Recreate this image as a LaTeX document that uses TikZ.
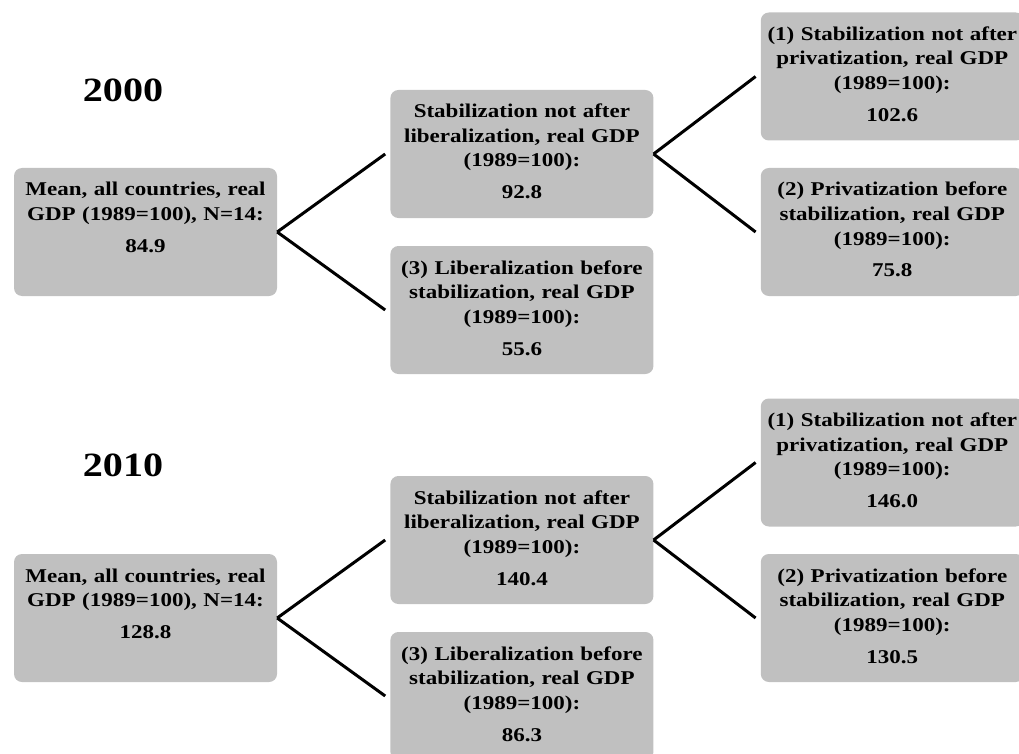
\documentclass[tikz,border=0pt]{standalone}
\usepackage{fontspec}
\setmainfont{Liberation Serif}[FakeStretch=1.18]
\usetikzlibrary{positioning}
\definecolor{boxgray}{RGB}{192,192,192}
\tikzset{
  gdpbox/.style={
    rectangle, fill=boxgray, rounded corners=8pt,
    minimum width=263pt, text width=255pt,
    inner xsep=4pt, inner ysep=0pt,
    text height=28pt, text depth=100pt,
    align=center, font=\bfseries\fontsize{19.5}{24.5}\selectfont
  },
  yearlabel/.style={font=\bfseries\fontsize{34}{40}\selectfont},
  branch/.style={line width=3pt}
}
\begin{document}
\begin{tikzpicture}[x=1pt, y=-1pt]
\useasboundingbox (0,0) rectangle (1019,754);

% 2000
\node[yearlabel] (yr00) at (123,90) {2000};
\node[gdpbox] (mean00) at (145.5,232)
  {Mean, all countries, real\\GDP (1989=100), N=14:\\[7.5pt]84.9};
\node[gdpbox, right=113pt of mean00, yshift=78pt] (notlib00)
  {Stabilization not after\\liberalization, real GDP\\(1989=100):\\[7.5pt]92.8};
\node[gdpbox, right=113pt of mean00, yshift=-78pt] (libfirst00)
  {(3) Liberalization before\\stabilization, real GDP\\(1989=100):\\[7.5pt]55.6};
\node[gdpbox, right=107pt of notlib00, yshift=77.5pt] (notpriv00)
  {(1) Stabilization not after\\privatization, real GDP\\(1989=100):\\[7.5pt]102.6};
\node[gdpbox, right=107pt of notlib00, yshift=-78pt] (privfirst00)
  {(2) Privatization before\\stabilization, real GDP\\(1989=100):\\[7.5pt]75.8};

\draw[branch] (mean00.east) -- ([xshift=-5pt]notlib00.west);
\draw[branch] (mean00.east) -- ([xshift=-5pt]libfirst00.west);
\draw[branch] (notlib00.east) -- ([xshift=-5pt]notpriv00.west);
\draw[branch] (notlib00.east) -- ([xshift=-5pt]privfirst00.west);

% 2010
\node[yearlabel] (yr10) at (123,465) {2010};
\node[gdpbox] (mean10) at (145.5,618)
  {Mean, all countries, real\\GDP (1989=100), N=14:\\[7.5pt]128.8};
\node[gdpbox, right=113pt of mean10, yshift=78pt] (notlib10)
  {Stabilization not after\\liberalization, real GDP\\(1989=100):\\[7.5pt]140.4};
\node[gdpbox, right=113pt of mean10, yshift=-78pt] (libfirst10)
  {(3) Liberalization before\\stabilization, real GDP\\(1989=100):\\[7.5pt]86.3};
\node[gdpbox, right=107pt of notlib10, yshift=77.5pt] (notpriv10)
  {(1) Stabilization not after\\privatization, real GDP\\(1989=100):\\[7.5pt]146.0};
\node[gdpbox, right=107pt of notlib10, yshift=-78pt] (privfirst10)
  {(2) Privatization before\\stabilization, real GDP\\(1989=100):\\[7.5pt]130.5};

\draw[branch] (mean10.east) -- ([xshift=-5pt]notlib10.west);
\draw[branch] (mean10.east) -- ([xshift=-5pt]libfirst10.west);
\draw[branch] (notlib10.east) -- ([xshift=-5pt]notpriv10.west);
\draw[branch] (notlib10.east) -- ([xshift=-5pt]privfirst10.west);

\end{tikzpicture}
\end{document}
